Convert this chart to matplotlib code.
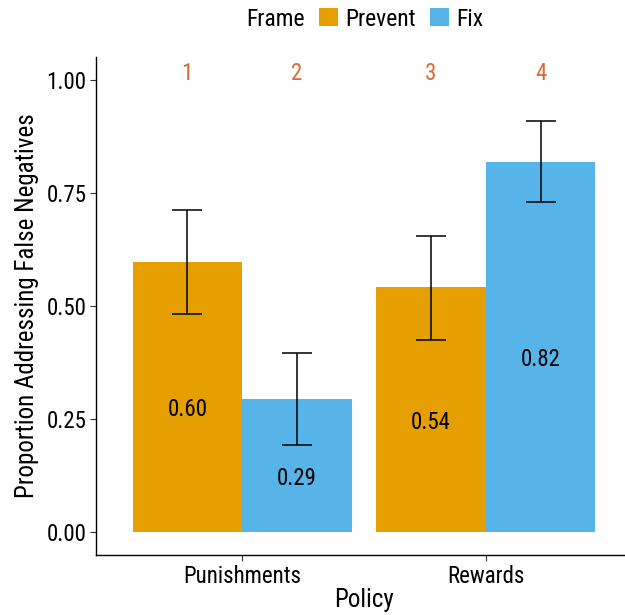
import matplotlib
matplotlib.use("Agg")
import matplotlib.pyplot as plt
import numpy as np

plt.rcParams['font.family'] = ['Roboto Condensed', 'DejaVu Sans']

policies = ["Punishments", "Rewards"]
frames = ["Prevent", "Fix"]
colors = ["#E69F00", "#56B4E9"]
values = {"Prevent": [0.598, 0.541], "Fix": [0.294, 0.819]}
lower = {"Prevent": [0.482, 0.426], "Fix": [0.193, 0.729]}
upper = {"Prevent": [0.711, 0.654], "Fix": [0.396, 0.908]}
labels = {"Prevent": ["0.60", "0.54"], "Fix": ["0.29", "0.82"]}
bar_ids = [["1", "3"], ["2", "4"]]

W, H = 625, 615
fig = plt.figure(figsize=(W / 100, H / 100), dpi=100)
ax = fig.add_axes([96 / W, 1 - 555 / H, (632 - 96) / W, (555 - 57) / H])

x = np.arange(1, len(policies) + 1)
width = 0.45
handles = []
for i, f in enumerate(frames):
    xs = x + (i - 0.5) * width
    v = np.array(values[f])
    lo = np.array(lower[f])
    hi = np.array(upper[f])
    b = ax.bar(xs, v, width=width, color=colors[i], linewidth=0, zorder=1)
    handles.append(b)
    ax.errorbar(xs, v, yerr=[v - lo, hi - v], fmt='none', ecolor='black',
                elinewidth=1.1, capsize=10.8, capthick=1.1, zorder=2)
    for xx, vv, lab, bid in zip(xs, v, labels[f], bar_ids[i]):
        ax.text(xx, vv / 2 - 0.003, lab, ha='center', va='top', fontsize=16.5, color='black', zorder=3)
        ax.text(xx, 1.0, bid, ha='center', va='baseline', fontsize=16.5, color='#DA6A35', zorder=3)

ax.set_xlim(0.4, 2.6)
ax.set_ylim(-0.05, 1.05)
ax.set_xticks(x)
ax.set_xticklabels(policies)
ax.set_yticks([0, 0.25, 0.5, 0.75, 1.0])
ax.set_yticklabels(["0.00", "0.25", "0.50", "0.75", "1.00"])
ax.tick_params(axis='both', labelsize=16.5, length=4, width=0.8, color='#333333', labelcolor='black', pad=3)
for s in ['top', 'right']:
    ax.spines[s].set_visible(False)
for s in ['left', 'bottom']:
    ax.spines[s].set_linewidth(1.0)
ax.set_xlabel("Policy", fontsize=18, labelpad=0)
ax.set_ylabel("Proportion Addressing False Negatives", fontsize=18, labelpad=5)

fig.text(246 / W, 1 - 19 / H, "Frame", fontsize=17, ha='left', va='center')
fig.legend(handles=handles, labels=frames, ncol=2, loc='center left',
           bbox_to_anchor=(314 / W, 1 - 19 / H), frameon=False, fontsize=17,
           handlelength=0.82, handleheight=0.82, handletextpad=0.3,
           columnspacing=0.6, borderaxespad=0, borderpad=0.2)

fig.savefig("out.png", dpi=100)
